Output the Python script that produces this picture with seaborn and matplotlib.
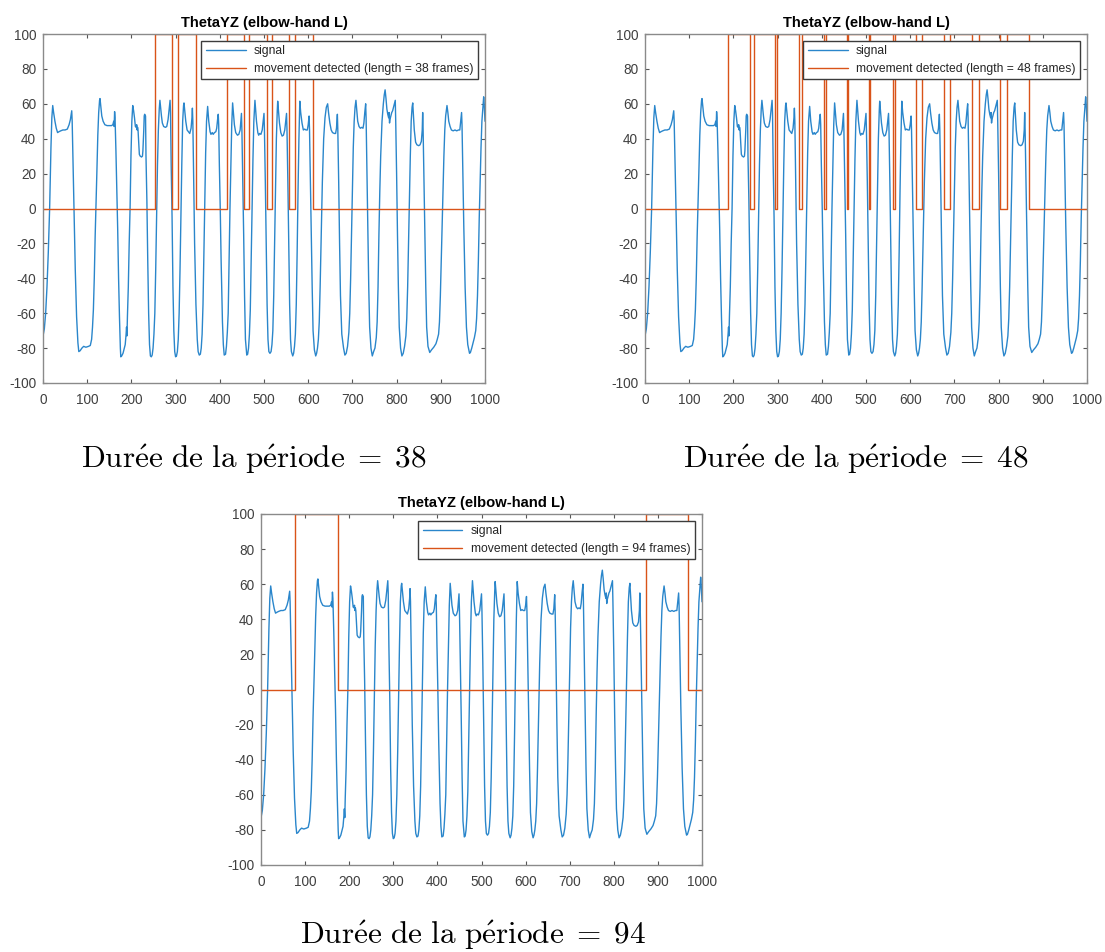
import numpy as np
import pandas as pd
import matplotlib
matplotlib.use("Agg")
import matplotlib.pyplot as plt
import seaborn as sns

# ---------------- data ----------------
sig_frames = [0, 3, 6, 9, 12, 15, 18, 20, 22, 24, 27, 30, 33, 36, 40, 45, 50, 55, 59, 62, 65, 66, 68, 70, 73, 76, 79, 81,
              84, 88, 92, 97, 103, 107, 110, 112, 114, 116, 118, 120, 122, 124, 126, 128, 129, 131, 133, 136, 140, 145,
              150, 155, 158, 160, 161, 162, 163, 165, 167, 169, 171, 173, 175, 176, 178, 181, 184, 186, 188, 189, 190,
              191, 193, 195, 197, 199, 201, 203, 205, 207, 209, 211, 212, 213, 214, 215, 216, 218, 220, 223, 225, 226,
              228, 229, 230, 232, 233, 235, 237, 239, 241, 243, 245, 247, 249, 251, 253, 255, 257, 259, 261, 263, 264.5,
              266, 268, 270, 273, 277, 280, 283, 285, 287.5, 288.5, 290, 292, 294, 296, 298, 300, 302, 304, 306, 308,
              310, 312, 314, 316, 318, 319, 321, 323, 326, 329, 332, 335, 337, 338, 339, 341, 343, 346, 349, 351, 353.5,
              356, 358, 360, 362, 364, 366, 368, 370, 372.5, 375, 378, 380, 383, 385, 388, 391, 393, 395, 396.5, 397.5,
              399, 401, 403, 406, 408, 410, 413, 415, 417, 419, 421, 423, 425, 427, 429, 431, 433, 436, 440, 443, 446,
              448, 449, 450, 452, 454, 456, 458, 461, 463, 465, 467, 469, 471, 473, 475, 477, 479.5, 481, 483, 486, 488,
              490, 493, 496, 498, 500, 501, 503, 505, 507, 509, 511, 513.5, 516, 518, 520, 522, 524, 526, 528, 530, 531,
              533, 535, 538, 541, 544, 547, 549, 551, 552, 554, 556, 558, 560, 562, 565, 567, 569, 571, 573, 575, 577,
              579, 581, 583, 586, 589, 592, 595, 598, 600, 602, 603, 605, 607, 609, 611, 614, 617, 619, 621, 623, 625,
              627, 629, 632, 635, 638, 641, 644, 646, 649, 652, 655, 659, 662, 664, 666, 667, 669, 671, 673, 676, 680,
              683, 686, 689, 692, 694, 696, 698, 700, 702, 704, 706, 708, 710, 712, 715, 718, 721, 724, 726, 728, 730,
              731, 733, 735, 737, 739, 742, 745, 748, 751, 754, 756, 758, 760, 762, 764, 767, 770, 772, 774, 776, 778,
              780, 782, 783, 784, 785, 787, 789, 791, 793, 795, 797, 798, 800, 802, 804, 806, 809, 812, 815, 818, 821,
              823, 825, 827, 829, 831, 833, 835, 836.5, 838, 840, 843, 846, 850, 853, 856, 858, 859, 860, 862, 864, 866,
              868, 871, 875, 879, 884, 889, 892, 895, 897, 899, 901, 903, 905, 907, 909, 911, 914, 916, 918, 921, 924,
              928, 932, 936, 940, 943, 945, 947, 948, 950, 952, 955, 958, 961, 965, 967, 970, 973, 976, 979, 981, 983,
              985, 987, 989, 991, 993, 995, 997, 998, 1000]
sig_values = [-73, -69, -60, -45, -25, 0, 35, 52, 59, 55, 50, 46, 43.5, 44, 44.5, 45, 45, 45.5, 48, 51, 56, 50, 25, 0, -35,
              -62, -77, -82, -81.5, -80, -79, -79.5, -79, -78.5, -75, -68, -58, -40, -16, 2, 22, 42, 55, 62, 63, 58, 53,
              50, 48, 47.5, 47.5, 47.5, 48, 50, 47, 55.5, 52, 33, 10, -12, -40, -62, -80, -85, -84.5, -83, -80, -78, -72,
              -68, -73, -62, -45, -20, 0, 30, 50, 59, 56, 52, 47, 46.5, 48, 45, 46.5, 45, 40, 31, 30, 29.5, 30, 33, 45,
              53, 54, 53, 30, 5, -30, -60, -78, -84.5, -85, -84, -80, -72, -60, -35, -5, 25, 45, 57, 62, 58, 53, 49, 47,
              46.5, 47, 51, 56, 62, 55, 25, -5, -45, -70, -82, -85, -84.5, -82, -75, -60, -35, -5, 25, 50, 59, 60.5, 55,
              50, 45, 44, 43, 46, 52, 57.5, 50, 16, -20, -55, -75, -82, -84, -83.5, -80, -72, -55, -25, 5, 32, 50, 58.5,
              50, 44, 42.5, 43.5, 42.5, 43.5, 44, 46, 51, 54, 48, 25, 0, -30, -65, -78, -84, -83.5, -79, -71, -60, -30, 0,
              25, 48, 60.5, 54, 48, 43.5, 42, 42.5, 45, 51, 54.5, 45, 15, -15, -50, -75, -84, -83.5, -80, -72, -58, -30,
              0, 28, 50, 62, 57, 50, 43.5, 42, 43, 42.5, 45, 50, 54.5, 45, 15, -20, -55, -75, -82, -83, -82, -78, -70,
              -50, -20, 10, 40, 56, 61.5, 55, 49, 43.5, 41.5, 42, 45, 50, 54.5, 45, 15, -20, -55, -75, -82, -84.5, -83,
              -79, -72, -55, -25, 10, 40, 61.5, 55, 49, 45, 45.5, 45, 45, 48, 53, 45, 15, -15, -45, -70, -81, -84.5, -83,
              -80, -75, -65, -45, -20, 15, 40, 52, 58, 60, 55, 49, 45, 43.5, 43, 43, 46, 54, 45, 15, -20, -50, -72, -80,
              -84, -83, -79, -71, -60, -40, -15, 10, 35, 50, 58, 62, 56, 50, 47, 46, 46.5, 46, 49, 55, 60, 52, 20, -15,
              -45, -68, -80, -84.5, -82, -80, -74, -65, -45, -15, 10, 30, 50, 60, 65, 68, 63, 57, 54, 52, 55, 49, 51, 53,
              55, 56, 58, 60, 62, 50, 20, -15, -45, -68, -80, -84.5, -83, -79, -73, -63, -45, -20, 5, 30, 50, 58, 60.5,
              54, 45, 38, 36.5, 36, 36.5, 38.5, 45, 55, 45, 15, -15, -45, -68, -79, -82.5, -81, -79.5, -77.5, -75, -72,
              -65, -50, -30, -10, 10, 30, 45, 53, 59, 55, 50, 47, 45, 44.5, 45, 44.5, 45, 45, 50, 55, 48, 20, -10, -45,
              -68, -78, -83, -82.5, -80, -77, -74, -70, -63, -50, -30, -5, 15, 35, 50, 57, 64, 61, 50]

# movement detected (0 / 100) : frames where the state changes, value from that frame on
move38_frames = [0, 253, 292, 306, 347, 417, 455, 467, 506, 519, 557, 571, 610, 1000]
move38_values = [0, 100, 0, 100, 0, 100, 0, 100, 0, 100, 0, 100, 0, 0]
move48_frames = [0, 188, 237, 247, 295, 299, 348, 356, 406, 409, 456, 460, 507, 510, 560, 565, 613, 627, 676, 691,
                 740, 756, 804, 819, 869, 1000]
move48_values = [0, 100, 0, 100, 0, 100, 0, 100, 0, 100, 0, 100, 0, 100, 0, 100, 0, 100, 0, 100, 0, 100, 0, 100, 0, 0]
move94_frames = [0, 78, 174, 874, 968, 1000]
move94_values = [0, 100, 0, 100, 0, 0]

panel_lengths = [38, 48, 94]
panel_title = "ThetaYZ (elbow-hand L)"
x_ticks = list(range(0, 1001, 100))
y_ticks = list(range(-100, 101, 20))

# ---------------- style ----------------
sns.set_theme(style="ticks")
plt.rcParams["font.family"] = ["Liberation Sans", "DejaVu Sans"]
plt.rcParams["mathtext.fontset"] = "cm"
plt.rcParams["axes.unicode_minus"] = False

BLUE = "#2a86cb"
ORANGE = "#D95319"
AXC = "#8a8a8a"
TXT = "#404040"

fig = plt.figure(figsize=(11.05, 9.52), dpi=100)
W, H = 1105, 952
boxes = [(43, 34, 485, 383), (645, 34, 1087, 383), (261, 514, 702, 865)]
moves = [(move38_frames, move38_values), (move48_frames, move48_values), (move94_frames, move94_values)]
captions_xy = [(254, 468), (856, 468), (473, 944)]

sig_df = pd.DataFrame({"frame": sig_frames, "value": sig_values})

for (x0, y0, x1, y1), (mf, mv), L, (cx, cy) in zip(boxes, moves, panel_lengths, captions_xy):
    ax = fig.add_axes([x0 / W, 1 - y1 / H, (x1 - x0) / W, (y1 - y0) / H])
    sns.lineplot(data=sig_df, x="frame", y="value", ax=ax, color=BLUE, lw=1.0,
                 estimator=None, sort=False, label="signal")
    mdf = pd.DataFrame({"frame": mf, "value": mv})
    sns.lineplot(data=mdf, x="frame", y="value", ax=ax, color=ORANGE, lw=1.0,
                 estimator=None, sort=False, drawstyle="steps-post",
                 label=f"movement detected (length = {L} frames)")
    ax.set_xlim(0, 1000)
    ax.set_ylim(-100, 100)
    ax.set_xticks(x_ticks)
    ax.set_yticks(y_ticks)
    ax.set_xlabel("")
    ax.set_ylabel("")
    for s in ax.spines.values():
        s.set_visible(True)
        s.set_color(AXC)
        s.set_linewidth(1.0)
    ax.tick_params(direction="in", length=3, width=0.8, color="#555555", labelsize=9.8,
                   labelcolor=TXT, top=True, right=True)
    ax.tick_params(axis="x", pad=7)
    ax.tick_params(axis="y", pad=5)
    ax.set_title(panel_title, fontsize=10.6, fontweight="bold", color="black", pad=5)
    leg = ax.legend(loc="upper right", fontsize=8.7, handlelength=3.3, frameon=True,
                    fancybox=False, framealpha=1, edgecolor="#3c3c3c",
                    borderaxespad=0.6, borderpad=0.35, labelspacing=0.45, handletextpad=0.7)
    leg.get_frame().set_linewidth(1.0)
    fig.text(cx / W, 1 - cy / H,
             r"$\mathrm{Dur\acute{e}e\ de\ la\ p\acute{e}riode}\;=\;" + str(L) + "$",
             fontsize=22.5, ha="center", va="baseline", color="black")

fig.savefig("out.png", dpi=100)
